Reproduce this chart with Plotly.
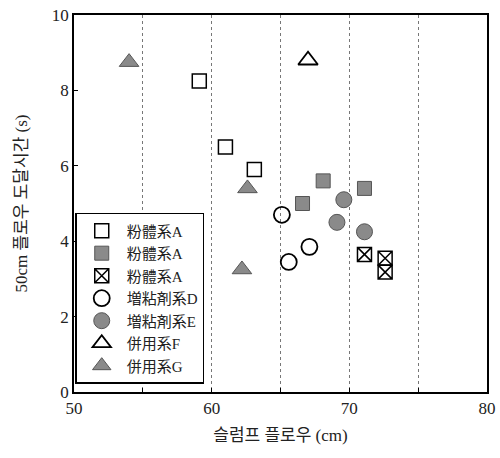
import plotly.graph_objects as go

# Data
series_names = ["粉體系A", "粉體系A", "粉體系A", "増粘剤系D", "増粘剤系E", "併用系F", "併用系G"]
a_open_x = [59.1, 61.0, 63.1]
a_open_y = [8.25, 6.5, 5.9]
a_fill_x = [66.6, 68.1, 71.1]
a_fill_y = [5.0, 5.6, 5.4]
a_cross_x = [71.1, 72.6, 72.6]
a_cross_y = [3.65, 3.55, 3.18]
d_x = [65.1, 67.1, 65.6]
d_y = [4.7, 3.85, 3.45]
e_x = [69.6, 69.1, 71.1]
e_y = [5.1, 4.5, 4.25]
f_x = [67.0]
f_y = [8.8]
g_x = [54.0, 62.6, 62.2]
g_y = [8.75, 5.4, 3.25]

x_tickvals = [50, 55, 60, 65, 70, 75, 80]
x_ticktext = ["50", "", "60", "", "70", "", "80"]
y_tickvals = [0, 2, 4, 6, 8, 10]
x_title = "슬럼프 플로우 (cm)"
y_title = "50cm 플로우 도달시간 (s)"

GRAY = "#8a8a8a"
FONT = "Liberation Serif, Noto Sans CJK JP, serif"

styles = [
    dict(symbol="square-open", color="black", line=dict(color="black", width=1.5), size=14),
    dict(symbol="square", color=GRAY, line=dict(color="#555", width=1), size=14),
    dict(symbol="square-x-open", color="black", line=dict(color="black", width=1.5), size=14),
    dict(symbol="circle-open", color="black", line=dict(color="black", width=1.8), size=16),
    dict(symbol="circle", color=GRAY, line=dict(color="#555", width=1), size=16),
    dict(symbol="triangle-up-open", color="black", line=dict(color="black", width=1.8), size=17),
    dict(symbol="triangle-up", color=GRAY, line=dict(color="#555", width=1), size=17),
]
xs = [a_open_x, a_fill_x, a_cross_x, d_x, e_x, f_x, g_x]
ys = [a_open_y, a_fill_y, a_cross_y, d_y, e_y, f_y, g_y]

fig = go.Figure()
for name, x, y, st in zip(series_names, xs, ys, styles):
    fig.add_trace(go.Scatter(x=x, y=y, mode="markers", name=name, marker=st))

fig.update_layout(
    width=500, height=458,
    margin=dict(l=74, r=13, t=15, b=66, autoexpand=False),
    paper_bgcolor="white", plot_bgcolor="white",
    font=dict(family=FONT, color="#222", size=16),
    showlegend=True,
    legend=dict(
        x=0.003, y=0.475, xanchor="left", yanchor="top",
        bordercolor="black", borderwidth=1.5, bgcolor="white",
        font=dict(family=FONT, size=15, color="#222"),
        tracegroupgap=0, itemwidth=40,
    ),
)
fig.update_xaxes(
    range=[50, 80], tickvals=x_tickvals, ticktext=x_ticktext,
    ticks="inside", ticklen=4, tickcolor="black",
    showline=True, mirror=True, linecolor="black", linewidth=1.5,
    showgrid=True, gridcolor="#777", griddash="dot", gridwidth=1,
    zeroline=False, automargin=False,
    title=dict(text=x_title, font=dict(size=17), standoff=12),
    tickfont=dict(size=17),
)
fig.update_yaxes(
    range=[0, 10], tickvals=y_tickvals,
    ticks="inside", ticklen=4, tickcolor="black",
    showline=True, mirror=True, linecolor="black", linewidth=1.5,
    showgrid=False, zeroline=False, automargin=False,
    title=dict(text=y_title, font=dict(size=17), standoff=20),
    tickfont=dict(size=17),
)

fig.write_html("out.html")
